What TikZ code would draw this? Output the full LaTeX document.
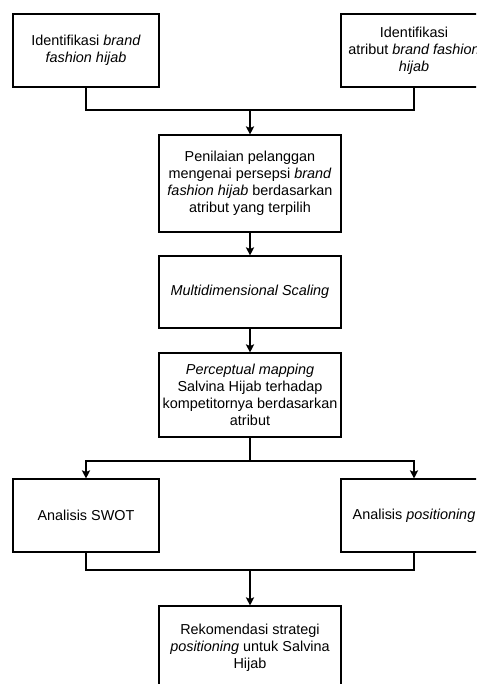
\documentclass[tikz,border=0pt]{standalone}
\usepackage{fontspec}
\setmainfont{Liberation Sans}
\usetikzlibrary{arrows.meta}
\tikzstyle{sidebox} = [rectangle, minimum width=4.38cm, minimum height=2.19cm, align=center, draw=black, line width=0.9pt, inner sep=0]
\tikzstyle{midbox} = [rectangle, minimum width=5.46cm, align=center, draw=black, line width=0.9pt, inner sep=0]
\tikzstyle{arrow} = [line width=0.9pt,-{Stealth[length=7pt,width=7pt,inset=1.5pt]}]
\tikzstyle{line} = [line width=0.9pt]

\begin{document}
\begin{tikzpicture}[x=0.03cm,y=-0.03cm,font=\fontsize{12.3}{14.5}\selectfont]
\useasboundingbox (0,0) rectangle (476,684);
\clip (0,0) rectangle (476,684);

\node[sidebox] (idbrand) at (86,50.5) {Identifikasi \textit{brand}\\\textit{fashion hijab}};
\node[sidebox] (idatribut) at (414,50.5) {Identifikasi\\atribut \textit{brand fashion}\\\textit{hijab}};
\node[midbox, minimum height=2.91cm] (penilaian) at (250,183.5) {Penilaian pelanggan\\mengenai persepsi \textit{brand}\\\textit{fashion hijab} berdasarkan\\atribut yang terpilih};
\node[midbox, minimum height=2.16cm] (mds) at (250,292) {\textit{Multidimensional Scaling}};
\node[midbox, minimum height=2.52cm] (mapping) at (250,395) {\textit{Perceptual mapping}\\Salvina Hijab terhadap\\kompetitornya berdasarkan\\atribut};
\node[sidebox] (swot) at (86,515.5) {Analisis SWOT};
\node[sidebox] (positioning) at (414,515.5) {Analisis \textit{positioning}};
\node[midbox, minimum height=2.52cm] (rekomendasi) at (250,648) {Rekomendasi strategi\\\textit{positioning} untuk Salvina\\Hijab};

\coordinate (join1) at (250,110);
\coordinate (split) at (250,461);
\coordinate (join2) at (250,570);

\draw[line] (idbrand.south) |- (join1);
\draw[line] (idatribut.south) |- (join1);
\draw[arrow] (join1) -- (penilaian.north);
\draw[arrow] (penilaian) -- (mds);
\draw[arrow] (mds) -- (mapping);
\draw[line] (mapping.south) -- (split);
\draw[arrow] (split) -| (swot.north);
\draw[arrow] (split) -| (positioning.north);
\draw[line] (swot.south) |- (join2);
\draw[line] (positioning.south) |- (join2);
\draw[arrow] (join2) -- (rekomendasi.north);

\end{tikzpicture}
\end{document}
